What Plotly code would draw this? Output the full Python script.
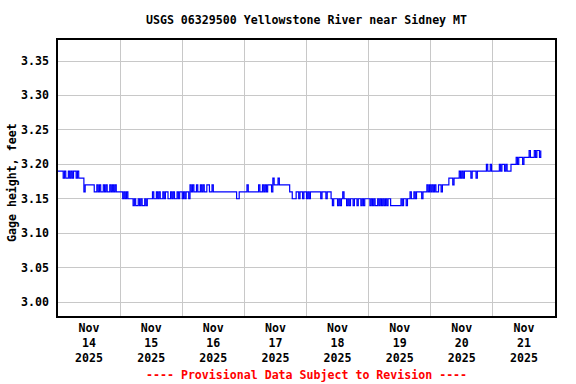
import pandas as pd
import plotly.graph_objects as go

# Gage height readings, hundredths of a foot above 3.00 ft, every 30 minutes, per day
day_starts = ["2025-11-14", "2025-11-15", "2025-11-16", "2025-11-17",
              "2025-11-18", "2025-11-19", "2025-11-20", "2025-11-21"]
nov14 = [19, 19, 19, 19,
         18, 19, 18, 18, 19, 18, 19, 18, 19, 19, 18, 19,
         18, 18, 18, 18,
         16, 17,
         17, 17, 17, 17, 17, 17,
         16, 16, 17, 16, 17, 16, 16, 17, 16, 17, 16, 16, 17, 16, 17, 16, 17, 16, 16, 16]
nov15 = [16, 16, 15, 16,
         15, 16, 15, 15, 15, 15,
         14, 15, 14, 14, 15, 14, 15, 14, 14, 15, 14, 15, 15, 15,
         15, 16, 15, 15, 16, 15, 16, 15, 15, 16, 15, 16, 16, 15, 15, 16, 15, 16, 15, 15, 16, 15, 16, 16]
nov16 = [15, 16, 15, 16, 16, 15,
         17, 16, 17, 16, 16, 17, 16, 16, 17, 16, 17, 16, 16, 17, 17, 16, 16, 17, 16, 16,
         16, 16, 16, 16, 16, 16, 16, 16, 16, 16, 16,
         16, 16, 16, 16, 16, 15, 15, 16, 16, 16, 16]
nov17 = [16, 16, 17, 16, 16, 16, 16, 16, 16, 16, 16, 17, 16, 16, 17, 16, 17, 16, 17,
         17, 17, 16, 18, 17, 17, 17, 18, 17, 17, 17, 17, 17, 17, 17, 17,
         16, 16,
         15, 15, 15, 16,
         16, 15, 16, 16, 15, 16, 16]
nov18 = [15, 16, 15, 16,
         16, 16, 16, 16, 16, 16, 16, 15,
         16, 16, 16, 15, 16, 16, 16,
         15, 14, 15, 15, 15, 14,
         15, 14, 15, 16, 15, 15, 14, 15, 14, 15, 15, 14, 15, 15, 14, 15, 15, 14, 15, 14, 15, 15, 15]
nov19 = [15, 14, 15, 14, 15, 14, 14, 15, 14, 15, 14, 15, 14, 15, 14, 15, 15, 14,
         14, 14, 14, 14, 14, 14, 14,
         15, 14, 15, 15, 14, 15, 15, 16,
         15, 15, 16, 15, 16, 16, 16, 16, 15, 16, 16, 16, 17, 16, 17]
nov20 = [16, 17, 16, 17, 16, 16, 17, 17, 16, 17, 17, 17, 17, 17,
         18, 18, 18, 17, 18, 18, 18, 18,
         19, 18, 19, 18,
         19, 19, 19, 19, 19, 18, 19, 19, 19, 18, 19, 19,
         19, 19, 19, 19, 19, 20, 19, 19, 20, 19]
nov21 = [19, 19, 19, 19, 19, 20, 19, 20, 20, 19, 20, 19, 19, 19,
         20, 20, 20, 20,
         21, 20, 21, 21, 21, 20, 21, 21, 21, 21,
         22, 21, 21, 21,
         22, 21, 22, 22, 21, 22]
daily_readings = [nov14, nov15, nov16, nov17, nov18, nov19, nov20, nov21]

tick_days = ["14", "15", "16", "17", "18", "19", "20", "21"]
y_ticks = [3.00, 3.05, 3.10, 3.15, 3.20, 3.25, 3.30, 3.35]

times = []
heights = []
for start, vals in zip(day_starts, daily_readings):
    t = pd.date_range(start, periods=len(vals), freq="30min")
    times.extend(t)
    heights.extend([3.0 + v / 100.0 for v in vals])

tick_noons = [pd.Timestamp(d) + pd.Timedelta(hours=12) for d in day_starts]
tick_text = [f"Nov<br>{d}<br>2025" for d in tick_days]

FONT = "DejaVu Sans Mono"
FS = 11.6
fig = go.Figure()
fig.add_trace(go.Scatter(x=times, y=heights, mode="lines",
                         line=dict(color="#0000FF", width=1.2, shape="hv"),
                         hoverinfo="skip", showlegend=False))

fig.update_layout(
    width=576, height=384,
    margin=dict(l=58, r=21, t=40, b=68, autoexpand=False),
    paper_bgcolor="white", plot_bgcolor="white",
    font=dict(family=FONT, size=FS, color="black", weight="bold"),
    title=dict(text="USGS 06329500 Yellowstone River near Sidney MT",
               x=0.5, xref="paper", xanchor="center", y=1 - 20 / 384, yref="container",
               yanchor="middle",
               font=dict(family=FONT, size=FS, color="black", weight="bold")),
    showlegend=False,
)

fig.update_xaxes(
    range=[pd.Timestamp("2025-11-14"), pd.Timestamp("2025-11-22")],
    tickmode="array", tickvals=tick_noons, ticktext=tick_text,
    showgrid=False, ticks="", ticklen=0, automargin=False,
    minor=dict(dtick=86400000, tick0="2025-11-14", showgrid=True,
               gridcolor="#C8C8C8", gridwidth=1, ticks=""),
    showline=True, linecolor="black", linewidth=1.5, mirror=True,
    zeroline=False, tickangle=0,
    tickfont=dict(family=FONT, size=FS, color="black", weight="bold"),
)
fig.update_yaxes(
    range=[2.9797, 3.3805],
    tickmode="array", tickvals=y_ticks, tickformat=".2f",
    showgrid=True, gridcolor="#C8C8C8", gridwidth=1,
    showline=True, linecolor="black", linewidth=1.5, mirror=True,
    zeroline=False, ticks="", ticklabelstandoff=5, automargin=False,
    tickfont=dict(family=FONT, size=FS, color="black", weight="bold"),
)

# y-axis title
fig.add_annotation(text="Gage height, feet", textangle=-90,
                   xref="paper", yref="paper", x=-(58 - 12) / 497, y=0.5 - 5 / 276,
                   xanchor="center", yanchor="middle", showarrow=False,
                   font=dict(family=FONT, size=FS, color="black", weight="bold"))

fig.add_annotation(text="---- Provisional Data Subject to Revision ----",
                   xref="paper", yref="paper", x=0.5, y=-(375 - 316) / 276,
                   xanchor="center", yanchor="middle", showarrow=False,
                   font=dict(family=FONT, size=FS, color="#FF0000", weight="bold"))

fig.write_html("out.html", config={"displayModeBar": False},
               post_script="document.body.style.margin='0';document.body.style.overflow='hidden';")
